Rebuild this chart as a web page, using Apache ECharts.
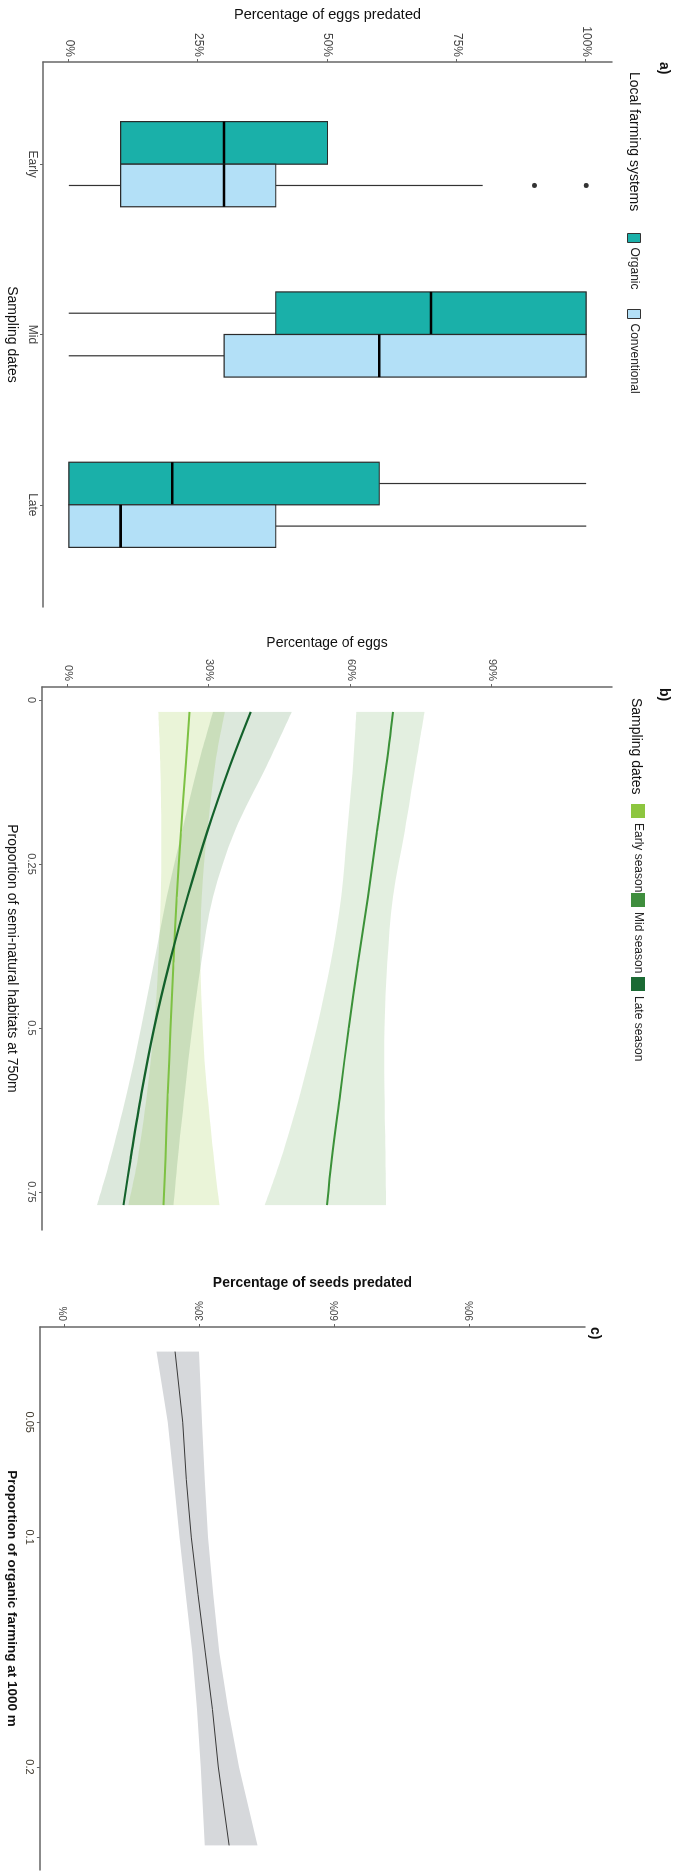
<!DOCTYPE html>
<html><head><meta charset="utf-8">
<script src="https://cdn.jsdelivr.net/npm/echarts@6/dist/echarts.min.js"></script>
<style>
html,body{margin:0;padding:0;background:#fff;width:680px;height:1876px;overflow:hidden;}
#chart{position:absolute;left:0;top:0;width:1876px;height:680px;transform-origin:0 0;transform:translate(680px,0) rotate(90deg);background:#fff;}
</style></head><body><div id="chart"></div>
<script>
// ---------- Panel a: boxplots ----------
var catLabels = ['Early', 'Mid', 'Late'];
// [min, q1, median, q3, max] per sampling date
var organicBox = [[10, 10, 30, 50, 50], [0, 40, 70, 100, 100], [0, 0, 20, 60, 100]];
var conventionalBox = [[0, 10, 30, 40, 80], [0, 30, 60, 100, 100], [0, 0, 10, 40, 100]];
var conventionalOutliers = [[1, 90], [1, 100]]; // [category (1-based), value]
var pctTicksA = [0, 25, 50, 75, 100];

// ---------- Panel b: fitted lines vs semi-natural habitats ----------
var habX = [0.018, 0.1, 0.2, 0.3, 0.4, 0.5, 0.6, 0.7, 0.77];
var earlyFit = [25.8, 25.0, 24.0, 23.1, 22.4, 21.8, 21.2, 20.7, 20.3];
var earlyLo = [19.2, 19.6, 19.8, 19.7, 19.2, 18.3, 16.8, 14.8, 12.8];
var earlyHi = [33.3, 31.2, 29.6, 28.4, 28.1, 28.6, 29.6, 31.0, 32.2];
var midFit = [69.0, 67.6, 65.6, 63.7, 61.6, 59.6, 57.8, 56.0, 55.0];
var midLo = [61.2, 60.5, 59.3, 58.0, 55.8, 52.8, 49.3, 45.2, 41.8];
var midHi = [75.7, 73.8, 71.5, 69.0, 67.8, 67.2, 67.2, 67.4, 67.5];
var lateFit = [38.8, 34.4, 29.6, 25.4, 21.6, 18.3, 15.6, 13.3, 11.8];
var lateLo = [30.8, 27.6, 24.2, 21.0, 18.3, 15.5, 12.5, 9.0, 6.2];
var lateHi = [47.5, 42.2, 35.4, 30.8, 28.3, 26.4, 24.8, 23.3, 22.4];
var habTicks = [0, 0.25, 0.5, 0.75];
var pctTicksB = [0, 30, 60, 90];

// ---------- Panel c: seeds vs organic farming ----------
var orgX = [0.0193, 0.05, 0.075, 0.1, 0.125, 0.15, 0.175, 0.2, 0.2341];
var seedFit = [24.5, 26.2, 27.0, 28.1, 29.6, 31.2, 32.8, 34.1, 36.5];
var seedLo = [20.4, 22.9, 24.2, 25.5, 26.9, 28.3, 29.4, 30.2, 31.1];
var seedHi = [29.8, 30.5, 31.1, 31.8, 33.0, 34.3, 36.3, 38.7, 42.8];
var orgTicks = [0.05, 0.1, 0.2];
var pctTicksC = [0, 30, 60, 90];

var FONT = '"Liberation Sans", Arial, sans-serif';
var BOX_W = 0.25;
var ORG_COL = '#1AB0A9', CONV_COL = '#B3E0F7';
var EARLY_COL = '#7DC143', MID_COL = '#3B9139', LATE_COL = '#13612B';

function zip() {
  var arrs = Array.prototype.slice.call(arguments), out = [];
  for (var i = 0; i < arrs[0].length; i++) out.push(arrs.map(function (a) { return a[i]; }));
  return out;
}
function boxRows(boxes, offset) {
  return boxes.map(function (b, i) { return [i + 1 + offset].concat(b); });
}
function boxRenderer(fill) {
  return function (params, api) {
    var x = api.value(0), lo = api.value(1), q1 = api.value(2), md = api.value(3), q3 = api.value(4), hi = api.value(5);
    var a = api.coord([x - BOX_W / 2, q1]), b = api.coord([x + BOX_W / 2, q3]);
    var ch = [];
    if (lo < q1) { var p1 = api.coord([x, lo]), p2 = api.coord([x, q1]); ch.push({ type: 'line', shape: { x1: p1[0], y1: p1[1], x2: p2[0], y2: p2[1] }, style: { stroke: '#333', lineWidth: 1.2 } }); }
    if (hi > q3) { var p3 = api.coord([x, q3]), p4 = api.coord([x, hi]); ch.push({ type: 'line', shape: { x1: p3[0], y1: p3[1], x2: p4[0], y2: p4[1] }, style: { stroke: '#333', lineWidth: 1.2 } }); }
    ch.push({ type: 'rect', shape: { x: a[0], y: b[1], width: b[0] - a[0], height: a[1] - b[1] }, style: { fill: fill, stroke: '#2b2b2b', lineWidth: 1.2 } });
    var m1 = api.coord([x - BOX_W / 2, md]), m2 = api.coord([x + BOX_W / 2, md]);
    ch.push({ type: 'line', shape: { x1: m1[0], y1: m1[1], x2: m2[0], y2: m2[1] }, style: { stroke: '#000', lineWidth: 2.6 } });
    return { type: 'group', children: ch };
  };
}
// Catmull-Rom -> cubic Bezier segments through pixel points
function curveThrough(pts, startCmd) {
  var d = startCmd + pts[0][0].toFixed(2) + ' ' + pts[0][1].toFixed(2);
  for (var i = 0; i < pts.length - 1; i++) {
    var p0 = pts[Math.max(i - 1, 0)], p1 = pts[i], p2 = pts[i + 1], p3 = pts[Math.min(i + 2, pts.length - 1)];
    var c1 = [p1[0] + (p2[0] - p0[0]) / 6, p1[1] + (p2[1] - p0[1]) / 6];
    var c2 = [p2[0] - (p3[0] - p1[0]) / 6, p2[1] - (p3[1] - p1[1]) / 6];
    d += ' C' + c1[0].toFixed(2) + ' ' + c1[1].toFixed(2) + ' ' + c2[0].toFixed(2) + ' ' + c2[1].toFixed(2) + ' ' + p2[0].toFixed(2) + ' ' + p2[1].toFixed(2);
  }
  return d;
}
function ribbonRenderer(xs, lo, hi, fill, smooth) {
  return function (params, api) {
    if (params.dataIndex !== 0) return { type: 'group', children: [] };
    var up = [], dn = [], i;
    for (i = 0; i < xs.length; i++) up.push(api.coord([xs[i], hi[i]]));
    for (i = xs.length - 1; i >= 0; i--) dn.push(api.coord([xs[i], lo[i]]));
    if (!smooth) {
      return { type: 'polygon', shape: { points: up.concat(dn) }, style: { fill: fill } };
    }
    var d = curveThrough(up, 'M') + ' ' + curveThrough(dn, 'L') + ' Z';
    return { type: 'path', shape: { pathData: d }, style: { fill: fill } };
  };
}
function axisLine() { return { show: true, onZero: false, lineStyle: { color: '#666', width: 1.5 } }; }
function tick(vals) { return { show: true, length: 3, customValues: vals, lineStyle: { color: '#666', width: 1 } }; }
function pct(v) { return Math.round(v) + '%'; }

var option = {
  animation: false,
  backgroundColor: '#fff',
  textStyle: { fontFamily: FONT },
  title: [
    { text: 'a)', left: 62, top: 9, padding: 0, textStyle: { fontSize: 14, fontWeight: 'bold', color: '#111', fontFamily: FONT } },
    { text: 'Local farming systems', left: 72, top: 39, padding: 0, textStyle: { fontSize: 14, fontWeight: 'normal', color: '#111', fontFamily: FONT } },
    { text: 'b)', left: 688, top: 9, padding: 0, textStyle: { fontSize: 14, fontWeight: 'bold', color: '#111', fontFamily: FONT } },
    { text: 'Sampling dates', left: 698, top: 37, padding: 0, textStyle: { fontSize: 14, fontWeight: 'normal', color: '#111', fontFamily: FONT } },
    { text: 'c)', left: 1327, top: 78, padding: 0, textStyle: { fontSize: 14, fontWeight: 'bold', color: '#111', fontFamily: FONT } }
  ],
  legend: [
    { data: [{ name: 'Organic', itemStyle: { color: ORG_COL, borderColor: '#333', borderWidth: 1 } }], left: 233, top: 39, padding: 0, icon: 'rect', itemWidth: 9, itemHeight: 13, textStyle: { fontSize: 12, color: '#222', fontFamily: FONT }, selectedMode: false },
    { data: [{ name: 'Conventional', itemStyle: { color: CONV_COL, borderColor: '#333', borderWidth: 1 } }], left: 309, top: 39, padding: 0, icon: 'rect', itemWidth: 9, itemHeight: 13, textStyle: { fontSize: 12, color: '#222', fontFamily: FONT }, selectedMode: false },
    { data: [{ name: 'Early season', itemStyle: { color: '#8DC63F' } }], left: 804, top: 35, padding: 0, icon: 'rect', itemWidth: 14, itemHeight: 14, textStyle: { fontSize: 12, color: '#222', fontFamily: FONT }, selectedMode: false },
    { data: [{ name: 'Mid season', itemStyle: { color: '#3F8E3D' } }], left: 893, top: 35, padding: 0, icon: 'rect', itemWidth: 14, itemHeight: 14, textStyle: { fontSize: 12, color: '#222', fontFamily: FONT }, selectedMode: false },
    { data: [{ name: 'Late season', itemStyle: { color: '#1B6A34' } }], left: 977, top: 35, padding: 0, icon: 'rect', itemWidth: 14, itemHeight: 14, textStyle: { fontSize: 12, color: '#222', fontFamily: FONT }, selectedMode: false }
  ],
  grid: [
    { left: 62, top: 68, width: 545, height: 572 },
    { left: 687, top: 68, width: 543, height: 572 },
    { left: 1327, top: 95, width: 543, height: 548 }
  ],
  xAxis: [
    { gridIndex: 0, type: 'value', min: 0.4, max: 3.6, name: 'Sampling dates', nameLocation: 'middle', nameGap: 24,
      nameTextStyle: { fontSize: 14, color: '#111', fontFamily: FONT },
      axisLine: axisLine(), axisTick: tick([1, 2, 3]),
      axisLabel: { customValues: [1, 2, 3], formatter: function (v) { return catLabels[Math.round(v) - 1]; }, fontSize: 12, color: '#444', margin: 5 },
      splitLine: { show: false } },
    { gridIndex: 1, type: 'value', min: -0.02, max: 0.808, name: 'Proportion of semi-natural habitats at 750m', nameLocation: 'middle', nameGap: 23,
      nameTextStyle: { fontSize: 14, color: '#111', fontFamily: FONT },
      axisLine: axisLine(), axisTick: tick(habTicks),
      axisLabel: { customValues: habTicks, formatter: function (v) { return String(Math.round(v * 100) / 100); }, fontSize: 11, color: '#444', margin: 5 },
      splitLine: { show: false } },
    { gridIndex: 2, type: 'value', min: 0.0086, max: 0.2448, name: 'Proportion of organic farming at 1000 m', nameLocation: 'middle', nameGap: 20,
      nameTextStyle: { fontSize: 13.5, fontWeight: 'bold', color: '#111', fontFamily: FONT },
      axisLine: axisLine(), axisTick: tick(orgTicks),
      axisLabel: { customValues: orgTicks, formatter: function (v) { return String(Math.round(v * 100) / 100); }, fontSize: 11, color: '#3a3428', margin: 5 },
      splitLine: { show: false } }
  ],
  yAxis: [
    { gridIndex: 0, type: 'value', min: -5, max: 105, name: 'Percentage of eggs predated', nameLocation: 'middle', nameGap: 35,
      nameTextStyle: { fontSize: 14.5, color: '#111', fontFamily: FONT },
      axisLine: axisLine(), axisTick: tick(pctTicksA),
      axisLabel: { customValues: pctTicksA, formatter: pct, fontSize: 12, color: '#444', margin: 5 },
      splitLine: { show: false } },
    { gridIndex: 1, type: 'value', min: -5.5, max: 115.5, name: 'Percentage of eggs', nameLocation: 'middle', nameGap: 37,
      nameTextStyle: { fontSize: 14, color: '#111', fontFamily: FONT },
      axisLine: axisLine(), axisTick: tick(pctTicksB),
      axisLabel: { customValues: pctTicksB, formatter: pct, fontSize: 11, color: '#444', margin: 6 },
      splitLine: { show: false } },
    { gridIndex: 2, type: 'value', min: -5.5, max: 115.5, name: 'Percentage of seeds predated', nameLocation: 'middle', nameGap: 37,
      nameTextStyle: { fontSize: 14, fontWeight: 'bold', color: '#111', fontFamily: FONT },
      axisLine: axisLine(), axisTick: tick(pctTicksC),
      axisLabel: { customValues: pctTicksC, formatter: pct, fontSize: 10, color: '#444', margin: 6, rotate: 180 },
      splitLine: { show: false } }
  ],
  series: [
    { name: 'Organic', type: 'custom', xAxisIndex: 0, yAxisIndex: 0, itemStyle: { color: ORG_COL },
      data: boxRows(organicBox, -BOX_W / 2), encode: { x: 0, y: [1, 2, 3, 4, 5] }, renderItem: boxRenderer(ORG_COL) },
    { name: 'Conventional', type: 'custom', xAxisIndex: 0, yAxisIndex: 0, itemStyle: { color: CONV_COL },
      data: boxRows(conventionalBox, BOX_W / 2), encode: { x: 0, y: [1, 2, 3, 4, 5] }, renderItem: boxRenderer(CONV_COL) },
    { name: 'outliers', type: 'scatter', xAxisIndex: 0, yAxisIndex: 0, symbolSize: 5, itemStyle: { color: '#000' },
      data: conventionalOutliers.map(function (o) { return [o[0] + BOX_W / 2, o[1]]; }) },

    { name: 'earlyBand', type: 'custom', xAxisIndex: 1, yAxisIndex: 1, data: zip(habX, earlyLo, earlyHi), encode: { x: 0, y: [1, 2] },
      renderItem: ribbonRenderer(habX, earlyLo, earlyHi, 'rgba(150,200,60,0.2)', true), z: 1 },
    { name: 'midBand', type: 'custom', xAxisIndex: 1, yAxisIndex: 1, data: zip(habX, midLo, midHi), encode: { x: 0, y: [1, 2] },
      renderItem: ribbonRenderer(habX, midLo, midHi, 'rgba(70,150,50,0.15)', true), z: 1 },
    { name: 'lateBand', type: 'custom', xAxisIndex: 1, yAxisIndex: 1, data: zip(habX, lateLo, lateHi), encode: { x: 0, y: [1, 2] },
      renderItem: ribbonRenderer(habX, lateLo, lateHi, 'rgba(40,110,40,0.16)', true), z: 1 },
    { name: 'Early season', type: 'line', xAxisIndex: 1, yAxisIndex: 1, data: zip(habX, earlyFit), showSymbol: false, symbol: 'none', smooth: 0.35,
      lineStyle: { color: EARLY_COL, width: 2 }, itemStyle: { color: EARLY_COL }, z: 3 },
    { name: 'Mid season', type: 'line', xAxisIndex: 1, yAxisIndex: 1, data: zip(habX, midFit), showSymbol: false, symbol: 'none', smooth: 0.35,
      lineStyle: { color: MID_COL, width: 2 }, itemStyle: { color: MID_COL }, z: 3 },
    { name: 'Late season', type: 'line', xAxisIndex: 1, yAxisIndex: 1, data: zip(habX, lateFit), showSymbol: false, symbol: 'none', smooth: 0.35,
      lineStyle: { color: LATE_COL, width: 2.2 }, itemStyle: { color: LATE_COL }, z: 3 },

    { name: 'seedBand', type: 'custom', xAxisIndex: 2, yAxisIndex: 2, data: zip(orgX, seedLo, seedHi), encode: { x: 0, y: [1, 2] },
      renderItem: ribbonRenderer(orgX, seedLo, seedHi, '#D6D8DB', false), z: 1 },
    { name: 'seedFit', type: 'line', xAxisIndex: 2, yAxisIndex: 2, data: zip(orgX, seedFit), showSymbol: false, symbol: 'none',
      lineStyle: { color: '#3a3a3a', width: 1 }, itemStyle: { color: '#3a3a3a' }, z: 3 }
  ]
};
var chart = echarts.init(document.getElementById('chart'), null, { renderer: 'canvas', width: 1876, height: 680 });
chart.setOption(option);
</script>
</body></html>
